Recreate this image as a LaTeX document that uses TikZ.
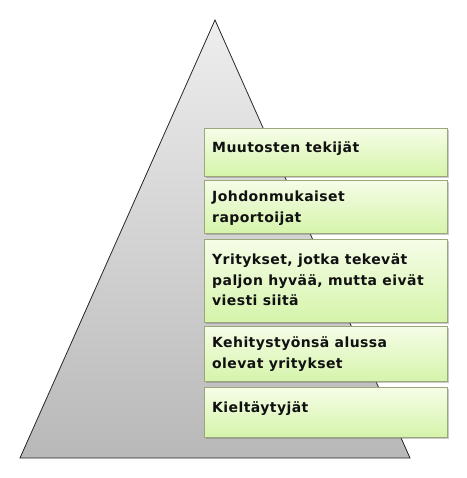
\documentclass[tikz,border=0pt]{standalone}
\usepackage{fontspec}
\setmainfont{DejaVu Sans}[BoldFont={DejaVu Sans Bold}]
\newfontfamily\boxfont{DejaVu Sans Bold}[LetterSpace=3]
\usetikzlibrary{shadows}
\definecolor{tritop}{HTML}{EEEEEE}
\definecolor{tribot}{HTML}{B8B8B8}
\definecolor{boxtop}{HTML}{F6FDE8}
\definecolor{boxbot}{HTML}{D5F4AA}
\definecolor{boxline}{HTML}{9CA67C}
\definecolor{txt}{HTML}{111111}
\tikzset{
  pyramid/.style={draw=black!85, line width=0.8pt, top color=tritop, bottom color=tribot},
  levelbox/.style={draw=boxline, line width=0.6pt, top color=boxtop, bottom color=boxbot,
    drop shadow={shadow xshift=1.6pt, shadow yshift=-1.8pt, opacity=0.35, fill=black!60},
    minimum width=243pt, inner sep=0pt, anchor=north west},
  leveltext/.style={anchor=base west, align=left, inner sep=0pt, text=txt,
    font=\boxfont\fontsize{14pt}{20.5pt}\selectfont}
}
\begin{document}
\begin{tikzpicture}[x=1pt,y=-1pt]
\useasboundingbox (0,0) rectangle (466,478);
\coordinate (apex) at (215,20);
\coordinate (bl) at (20,458);
\coordinate (br) at (410,458);
\path[pyramid] (apex) -- (br) -- (bl) -- cycle;
\node[levelbox, minimum height=48pt] (b1) at (204,128) {};
\node[levelbox, minimum height=53pt] (b2) at (204,180) {};
\node[levelbox, minimum height=83pt] (b3) at (204,239) {};
\node[levelbox, minimum height=55pt] (b4) at (204,326) {};
\node[levelbox, minimum height=50pt] (b5) at (204,387) {};
% base anchor of a multi-line node is the baseline of its last line
\node[leveltext] (t1) at (212,152.3) {Muutosten tekijät};
\node[leveltext] (t2) at (212,222) {Johdonmukaiset\\raportoijat};
\node[leveltext] (t3) at (212,305.5) {Yritykset, jotka tekevät\\paljon hyvää, mutta eivät\\viesti siitä};
\node[leveltext] (t4) at (212,368) {Kehitystyönsä alussa\\olevat yritykset};
\node[leveltext] (t5) at (212,412.5) {Kieltäytyjät};
\end{tikzpicture}
\end{document}
